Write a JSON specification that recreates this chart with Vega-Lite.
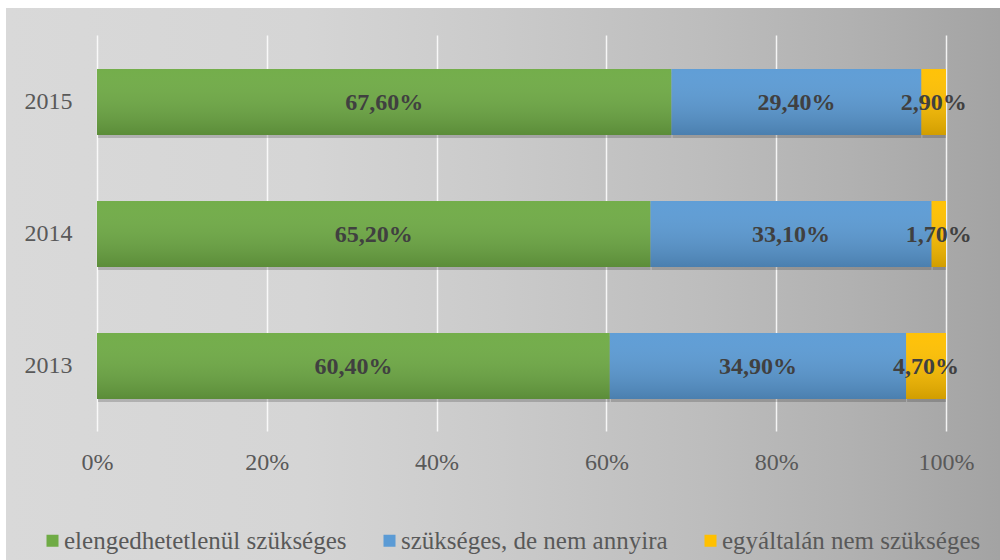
{
  "$schema": "https://vega.github.io/schema/vega-lite/v6.json",
  "width": 1000,
  "height": 560,
  "autosize": {"type": "fit", "contains": "padding"},
  "padding": {"left": 6, "top": 8, "right": 0, "bottom": 0},
  "background": "#ffffff",
  "config": {
    "locale": {"number": {"decimal": ",", "thousands": " ", "grouping": [3], "currency": ["", " Ft"]}},
    "font": "Liberation Serif",
    "axisX": {
      "title": null,
      "format": ".0%",
      "offset": -129,
      "domain": false,
      "ticks": false,
      "tickSize": 0,
      "labelPadding": 31,
      "labelBaseline": "middle",
      "labelFontSize": 24,
      "labelFont": "Liberation Serif",
      "labelColor": "#595959",
      "labelOverlap": false,
      "grid": true,
      "gridColor": "#ffffff",
      "gridOpacity": 0.85,
      "gridWidth": 1.5,
      "gridDash": [396, 300],
      "gridDashOffset": 0
    },
    "view": {
      "stroke": null,
      "fill": {
        "gradient": "linear",
        "x1": 0, "y1": 0, "x2": 1, "y2": 0,
        "stops": [
          {"offset": 0, "color": "#d9d9d9"},
          {"offset": 0.3, "color": "#d5d5d5"},
          {"offset": 0.5, "color": "#cacaca"},
          {"offset": 0.7, "color": "#bdbdbd"},
          {"offset": 0.85, "color": "#b1b1b1"},
          {"offset": 1, "color": "#a3a3a3"}
        ]
      }
    }
  },
  "data": {
    "values": [
      {"year": "2015", "cat": "elengedhetetlenül szükséges", "v": 0.676},
      {"year": "2015", "cat": "szükséges, de nem annyira", "v": 0.294},
      {"year": "2015", "cat": "egyáltalán nem szükséges", "v": 0.029},
      {"year": "2014", "cat": "elengedhetetlenül szükséges", "v": 0.652},
      {"year": "2014", "cat": "szükséges, de nem annyira", "v": 0.331},
      {"year": "2014", "cat": "egyáltalán nem szükséges", "v": 0.017},
      {"year": "2013", "cat": "elengedhetetlenül szükséges", "v": 0.604},
      {"year": "2013", "cat": "szükséges, de nem annyira", "v": 0.349},
      {"year": "2013", "cat": "egyáltalán nem szükséges", "v": 0.047}
    ]
  },
  "transform": [
    {"stack": "v", "groupby": ["year"], "offset": "normalize", "as": ["s", "e"]},
    {"calculate": "(datum.s + datum.e) / 2", "as": "m"}
  ],
  "encoding": {
    "y": {
      "field": "year",
      "type": "nominal",
      "scale": {"domain": ["2015", "2014", "2013"], "paddingInner": 0.5, "paddingOuter": 0.8409, "align": 0.2748},
      "axis": {
        "title": null,
        "offset": -74,
        "domain": false,
        "ticks": false,
        "tickSize": 0,
        "labelPadding": 8,
        "labelFontSize": 24,
        "labelFont": "Liberation Serif",
        "labelColor": "#595959",
        "grid": false
      }
    }
  },
  "layer": [
    {
      "mark": {"type": "bar", "color": "#000000", "opacity": 0.18, "yOffset": 3, "xOffset": 1},
      "encoding": {
        "x": {"field": "s", "type": "quantitative", "title": null, "scale": {"domain": [-0.10718, 1.0636], "nice": false, "zero": false}, "axis": {"values": [0, 0.2, 0.4, 0.6, 0.8, 1]}},
        "x2": {"field": "e"}
      }
    },
    {
      "mark": {"type": "bar"},
      "encoding": {
        "x": {"field": "s", "type": "quantitative", "title": null, "scale": {"domain": [-0.10718, 1.0636], "nice": false, "zero": false}, "axis": {"values": [0, 0.2, 0.4, 0.6, 0.8, 1]}},
        "x2": {"field": "e"},
        "color": {
          "field": "cat",
          "type": "nominal",
          "scale": {
            "domain": ["elengedhetetlenül szükséges", "szükséges, de nem annyira", "egyáltalán nem szükséges"],
            "range": ["#6fab45", "#5b9bd5", "#ffc000"]
          },
          "legend": {
            "orient": "none",
            "legendX": 34,
            "legendY": 520,
            "direction": "horizontal",
            "columns": 3,
            "title": null,
            "symbolType": "square",
            "symbolSize": 144,
            "symbolStrokeWidth": 0,
            "labelFontSize": 25,
            "labelFont": "Liberation Serif",
            "labelColor": "#595959",
            "labelLimit": 400,
            "labelOffset": -1,
            "columnPadding": 30
          }
        }
      }
    },
    {
      "mark": {
        "type": "bar",
        "fill": {
          "gradient": "linear",
          "x1": 0, "y1": 0, "x2": 0, "y2": 1,
          "stops": [
            {"offset": 0, "color": "rgba(255,255,255,0.03)"},
            {"offset": 1, "color": "rgba(0,0,0,0.18)"}
          ]
        }
      },
      "encoding": {
        "x": {"field": "s", "type": "quantitative", "title": null, "scale": {"domain": [-0.10718, 1.0636], "nice": false, "zero": false}, "axis": {"values": [0, 0.2, 0.4, 0.6, 0.8, 1]}},
        "x2": {"field": "e"}
      }
    },
    {
      "mark": {"type": "text", "font": "Liberation Serif", "fontSize": 24, "fontWeight": "bold", "color": "#404040", "baseline": "middle", "dy": 1},
      "encoding": {
        "x": {"field": "m", "type": "quantitative", "title": null, "scale": {"domain": [-0.10718, 1.0636], "nice": false, "zero": false}, "axis": {"values": [0, 0.2, 0.4, 0.6, 0.8, 1]}},
        "text": {"field": "v", "type": "quantitative", "format": ".2%"}
      }
    }
  ]
}
